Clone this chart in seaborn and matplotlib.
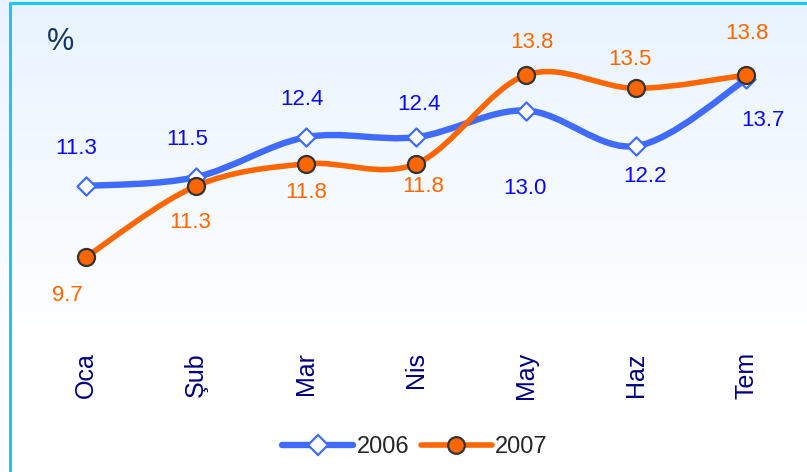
import numpy as np
import matplotlib
matplotlib.use("Agg")
import matplotlib.pyplot as plt
from matplotlib.path import Path
from matplotlib.patches import PathPatch
from matplotlib.lines import Line2D
import seaborn as sns

# data
months = ["Oca", "Şub", "Mar", "Nis", "May", "Haz", "Tem"]
y2006 = [11.3, 11.5, 12.4, 12.4, 13.0, 12.2, 13.7]
y2007 = [9.7, 11.3, 11.8, 11.8, 13.8, 13.5, 13.8]
labels2006 = ["11.3", "11.5", "12.4", "12.4", "13.0", "12.2", "13.7"]
labels2007 = ["9.7", "11.3", "11.8", "11.8", "13.8", "13.5", "13.8"]

# label offsets in pixels (layout only)
off2006 = [(-10, 38), (-9, 38), (-4, 38), (3, 33), (-1, -78), (9, -30), (17, -41)]
off2007 = [(-19, -38), (-6, -36), (0, -29), (7, -23), (6, 33), (-6, 29), (1, 42)]

BLUE = "#3f6bff"
ORANGE = "#ff6600"
FONT = "Liberation Sans"


def smooth_path(x, y):
    # excel-like smoothed line as cubic bezier segments
    pts = np.column_stack([x, y]).astype(float)
    n = len(pts)
    verts = [pts[0]]
    codes = [Path.MOVETO]
    for i in range(n - 1):
        p0 = pts[max(i - 1, 0)]
        p1 = pts[i]
        p2 = pts[i + 1]
        p3 = pts[min(i + 2, n - 1)]
        c1 = p1 + (p2 - p0) / 6
        c2 = p2 - (p3 - p1) / 6
        verts += [c1, c2, p2]
        codes += [Path.CURVE4] * 3
    return Path(verts, codes)


sns.set_style("white")
plt.rcParams["font.family"] = [FONT, "DejaVu Sans"]

fig = plt.figure(figsize=(8.07, 4.72), dpi=100)

# gradient background
bg = fig.add_axes([0, 0, 1, 1], zorder=-10)
grad = np.linspace(0, 1, 256).reshape(-1, 1)
top = np.array([0.91, 0.955, 1.0])
white = np.array([1.0, 1.0, 1.0])
t = np.clip(grad / 0.72, 0, 1)
img = top * (1 - t)[..., None] + white * t[..., None]
bg.imshow(img, aspect="auto", extent=[0, 1, 0, 1], origin="upper")
bg.plot([10 / 807, 10 / 807], [0, 1 - 3 / 472], color="#19c8f5", lw=2.2)
bg.plot([10 / 807, 1], [1 - 3 / 472, 1 - 3 / 472], color="#19c8f5", lw=2.2)
bg.set_xlim(0, 1)
bg.set_ylim(0, 1)
bg.axis("off")

ax = fig.add_axes([31 / 807, 142 / 472, 770 / 807, 310 / 472])
ax.patch.set_alpha(0)
x = np.arange(len(months))

ax.add_patch(PathPatch(smooth_path(x, y2006), fill=False, edgecolor=BLUE, lw=4.6,
                       capstyle="round", joinstyle="round", zorder=2))
ax.add_patch(PathPatch(smooth_path(x, y2007), fill=False, edgecolor=ORANGE, lw=4.0,
                       capstyle="round", joinstyle="round", zorder=4))
sns.scatterplot(x=x, y=y2006, marker="D", s=85, color="white", edgecolor=BLUE,
                linewidth=1.6, ax=ax, zorder=3)
sns.scatterplot(x=x, y=y2007, marker="o", s=150, color=ORANGE, edgecolor="#333333",
                linewidth=1.6, ax=ax, zorder=5)

for xi, yi, lab, (dx, dy) in zip(x, y2006, labels2006, off2006):
    ax.annotate(lab, (xi, yi), xytext=(dx, dy), textcoords="offset pixels",
                ha="center", va="center", fontsize=16, color="#0a0af0")
for xi, yi, lab, (dx, dy) in zip(x, y2007, labels2007, off2007):
    ax.annotate(lab, (xi, yi), xytext=(dx, dy), textcoords="offset pixels",
                ha="center", va="center", fontsize=16, color=ORANGE)

ax.set_xlim(-0.5, 6.5)
ax.set_ylim(8.056, 15.04)
ax.set_xticks(x)
ax.set_xticklabels(months, rotation=90, fontsize=18, color="#000080", va="top")
ax.tick_params(axis="x", length=0, pad=16)
ax.set_yticks([])
for s in ax.spines.values():
    s.set_visible(False)

fig.text(47 / 807, 1 - 42 / 472, "%", fontsize=22, color="#16365e", va="center", ha="left")

handles = [
    Line2D([], [], color=BLUE, lw=4.6, marker="D", markersize=10, markerfacecolor="white",
           markeredgecolor=BLUE, markeredgewidth=1.6, solid_capstyle="round"),
    Line2D([], [], color=ORANGE, lw=4.0, marker="o", markersize=12, markerfacecolor=ORANGE,
           markeredgecolor="#333333", markeredgewidth=1.6, solid_capstyle="round"),
]
fig.legend(handles, ["2006", "2007"], loc="center", bbox_to_anchor=(415 / 807, 1 - 447 / 472),
           ncol=2, frameon=False, fontsize=17, handlelength=3.0, handletextpad=0.15,
           columnspacing=0.5)

fig.savefig("out.png", dpi=100)
